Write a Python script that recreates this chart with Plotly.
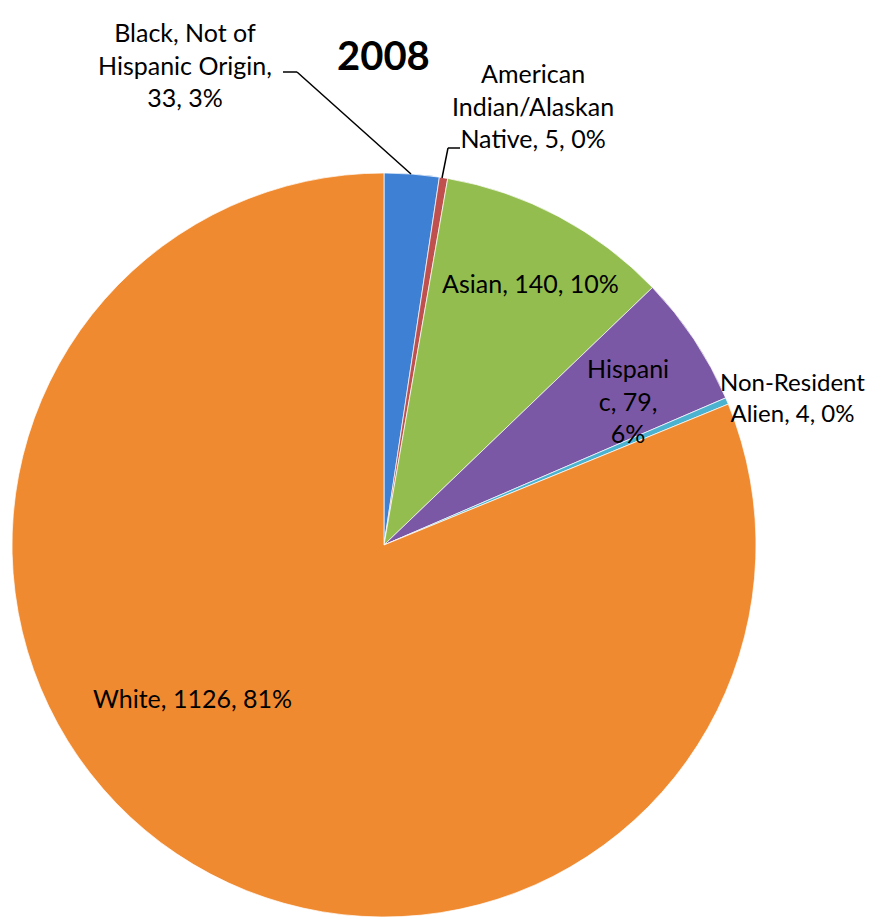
import plotly.graph_objects as go

categories = ["Black, Not of Hispanic Origin", "American Indian/Alaskan Native", "Asian",
              "Hispanic", "Non-Resident Alien", "White"]
values = [33, 5, 140, 79, 4, 1126]
percents = [3, 0, 10, 6, 0, 81]
colors = ["#3d80d4", "#c0504d", "#93bd4f", "#7b58a6", "#4bb3d0", "#f08a30"]
title_text = "2008"

OFF = 8  # default page margin of the html body
W, H = 881 - OFF, 917 - OFF
FONT = "Lato"
FS = 25


def px(x):
    return (x - OFF) / W


def py(y):
    return 1 - (y - OFF) / H


fig = go.Figure(go.Pie(
    labels=categories,
    values=values,
    sort=False,
    direction="clockwise",
    rotation=0,
    marker=dict(colors=colors, line=dict(color="rgba(255,255,255,0.7)", width=1)),
    textinfo="none",
    hoverinfo="label+value+percent",
    domain=dict(x=[px(12), px(756)], y=[max(0, py(917)), py(173)]),
    showlegend=False,
))


def lab(i):
    return f"{values[i]}, {percents[i]}%"


texts = [
    "Black, Not of<br>Hispanic Origin,<br>" + lab(0),
    "American<br>Indian/Alaskan<br>Native, " + lab(1),
    "Asian, " + lab(2),
    "Hispani<br>c, " + f"{values[3]},<br>{percents[3]}%",
    "Non-Resident<br>Alien, " + lab(4),
    "White, " + lab(5),
]
positions = [(185, 64), (533, 105), (530, 283), (628, 400), (792, 397), (192, 698)]
sizes = [FS, FS, FS, FS, 24, FS]

annotations = []
for t, (x, y), s in zip(texts, positions, sizes):
    annotations.append(dict(
        text=t, x=px(x), y=py(y), xref="paper", yref="paper",
        xanchor="center", yanchor="middle", showarrow=False,
        font=dict(family=FONT, size=s, color="#000000"), align="center",
    ))
annotations.append(dict(
    text=f"<b>{title_text}</b>", x=px(383), y=py(55), xref="paper", yref="paper",
    xanchor="center", yanchor="middle", showarrow=False,
    font=dict(family=FONT, size=40, color="#000000"),
))


def seg(pts):
    return [dict(type="line", xref="paper", yref="paper",
                 x0=px(a[0]), y0=py(a[1]), x1=px(b[0]), y1=py(b[1]),
                 line=dict(color="#000000", width=1.5))
            for a, b in zip(pts[:-1], pts[1:])]


shapes = seg([(283, 72), (297, 72), (411, 174)]) + seg([(460, 148), (448, 148), (442, 178)])

fig.update_layout(
    width=W, height=H,
    margin=dict(l=0, r=0, t=0, b=0),
    paper_bgcolor="white", plot_bgcolor="white",
    annotations=annotations,
    shapes=shapes,
)

fig.write_html("out.html")
